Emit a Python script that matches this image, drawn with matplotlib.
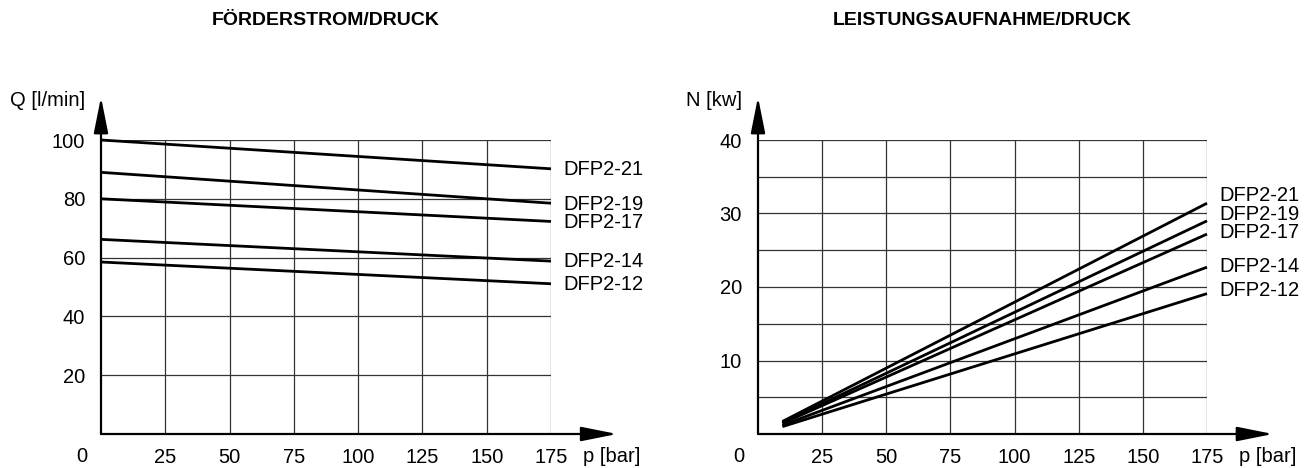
import numpy as np
import matplotlib as mpl
mpl.use('Agg')
import matplotlib.pyplot as plt
from matplotlib.transforms import blended_transform_factory

plt.rcParams['font.family'] = ['Liberation Sans', 'DejaVu Sans']

models = ['DFP2-21', 'DFP2-19', 'DFP2-17', 'DFP2-14', 'DFP2-12']

# Foerderstrom Q [l/min] vs p [bar]
q_p = [0, 175]
q_start = [100, 89, 80, 66.2, 58.5]
q_end = [90.2, 78.5, 72.3, 58.8, 51.1]
q_label_y = [90.0, 78.2, 72.0, 58.6, 50.8]

# Leistungsaufnahme N [kW] vs p [bar]
n_p = [9.5, 175]
n_start = [1.7, 1.55, 1.45, 1.2, 1.0]
n_end = [31.4, 29.0, 27.2, 22.7, 19.1]
n_label_y = [32.4, 29.9, 27.4, 22.8, 19.5]

x_ticks = [25, 50, 75, 100, 125, 150, 175]

fs = 14.5
fig = plt.figure(figsize=(13.11, 4.68), dpi=100)
ax1 = fig.add_axes([101/1311, 34/468, 450/1311, 294/468])
ax2 = fig.add_axes([758/1311, 34/468, 449/1311, 294/468])


def setup(ax, ymax, ygrid, ylabels, ylab, title):
    ax.set_xlim(0, 175)
    ax.set_ylim(0, ymax)
    for s in ax.spines.values():
        s.set_visible(False)
    for x in x_ticks:
        ax.axvline(x, color='#333333', lw=0.9, zorder=1)
    for y in ygrid:
        ax.axhline(y, color='#333333', lw=0.9, zorder=1)
    ax.set_xticks(x_ticks)
    ax.set_xticklabels([str(x) for x in x_ticks], fontsize=fs)
    ax.set_yticks(ylabels)
    ax.set_yticklabels([str(y) for y in ylabels], fontsize=fs)
    ax.tick_params(length=0)
    ax.tick_params(axis='y', pad=11.5)
    ax.tick_params(axis='x', pad=10)
    arrow = dict(arrowstyle='-|>,head_length=1.1,head_width=0.22',
                 lw=1.6, color='black', mutation_scale=20, shrinkA=0, shrinkB=0)
    ax.annotate('', xy=(1.147, 0), xytext=(0, 0), xycoords='axes fraction',
                textcoords='axes fraction', arrowprops=arrow, annotation_clip=False)
    ax.annotate('', xy=(0, 1.146), xytext=(0, 0), xycoords='axes fraction',
                textcoords='axes fraction', arrowprops=arrow, annotation_clip=False)
    tr = blended_transform_factory(ax.transData, ax.transAxes)
    ax.text(-7.6, -0.075, '0', transform=tr, ha='center', va='center', fontsize=fs)
    ax.text(1.072, -0.075, 'p [bar]', transform=ax.transAxes, ha='left',
            va='center', fontsize=fs)
    ax.text(-0.035, 1.133, ylab, transform=ax.transAxes, ha='right',
            va='center', fontsize=fs)
    ax.text(0.5, 1.408, title, transform=ax.transAxes, ha='center', va='center',
            fontsize=14, fontweight='bold')


setup(ax1, 100, [20, 40, 60, 80, 100], [20, 40, 60, 80, 100], 'Q [l/min]',
      'FÖRDERSTROM/DRUCK')
setup(ax2, 40, [5, 10, 15, 20, 25, 30, 35, 40], [10, 20, 30, 40], 'N [kw]',
      'LEISTUNGSAUFNAHME/DRUCK')

for i, m in enumerate(models):
    ax1.plot(q_p, [q_start[i], q_end[i]], color='black', lw=2, zorder=3,
             solid_capstyle='butt', clip_on=False)
    ax1.text(180, q_label_y[i], m, fontsize=fs, ha='left', va='center')
    ax2.plot(n_p, [n_start[i], n_end[i]], color='black', lw=2, zorder=3,
             solid_capstyle='butt', clip_on=False)
    ax2.text(180, n_label_y[i], m, fontsize=fs, ha='left', va='center')

fig.savefig('out.png', dpi=100)
